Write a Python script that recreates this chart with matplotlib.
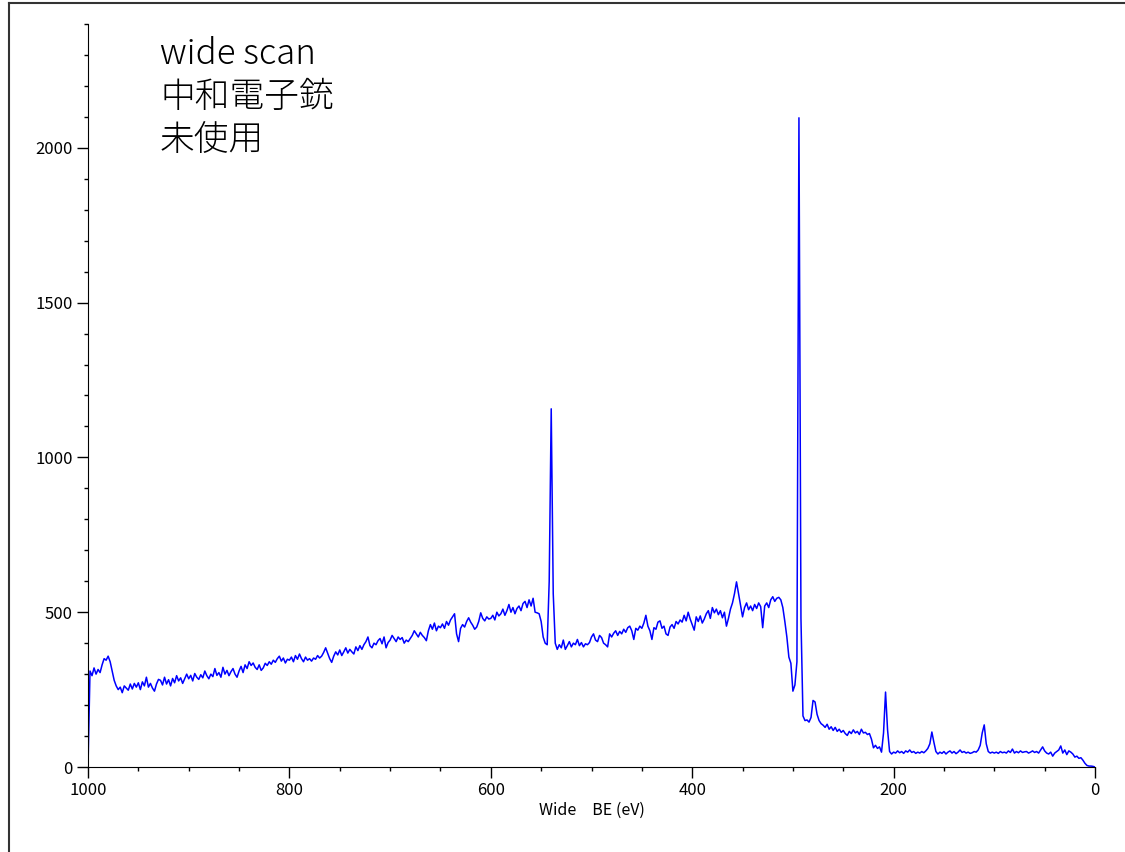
import matplotlib.pyplot as plt
import matplotlib.lines as mlines
import numpy as np

plt.rcParams['font.family'] = ['Noto Sans CJK JP', 'DejaVu Sans']

# scan grid (eV), high BE -> low BE
scan_start, scan_stop, scan_step = 1000, 0, 2

# counts, one row per 50 eV (1000 ... 2), last value at 0 eV
counts = [
    0, 310, 295, 320, 300, 315, 305, 330, 350, 345, 358, 340, 310, 280, 262, 250, 258, 240, 262, 255, 248, 268, 252, 270, 258,
    272, 250, 275, 262, 290, 258, 270, 255, 245, 268, 283, 280, 265, 290, 268, 282, 262, 286, 272, 295, 278, 288, 270, 285, 300,
    285, 296, 278, 302, 290, 283, 298, 288, 310, 295, 285, 300, 292, 318, 296, 305, 290, 322, 300, 312, 295, 308, 318, 300, 290,
    310, 325, 305, 330, 318, 340, 328, 336, 322, 315, 330, 312, 320, 335, 328, 340, 332, 345, 338, 350, 358, 342, 352, 336, 348,
    345, 355, 340, 360, 348, 365, 350, 340, 355, 345, 350, 342, 352, 348, 360, 352, 358, 370, 385, 368, 350, 338, 358, 372, 362,
    378, 360, 372, 385, 368, 380, 372, 365, 388, 376, 392, 380, 395, 405, 420, 392, 385, 400, 395, 408, 415, 398, 420, 385, 402,
    410, 425, 415, 405, 420, 412, 418, 400, 410, 405, 415, 425, 440, 430, 420, 435, 425, 418, 408, 440, 460, 445, 465, 440, 455,
    450, 462, 448, 470, 458, 475, 485, 495, 430, 405, 448, 460, 452, 470, 482, 468, 458, 445, 452, 470, 498, 480, 472, 485, 478,
    480, 490, 475, 500, 488, 495, 510, 490, 505, 525, 500, 515, 495, 512, 520, 505, 528, 535, 515, 540, 520, 545, 500, 498, 495,
    470, 420, 400, 395, 600, 1157, 560, 400, 380, 395, 385, 410, 380, 392, 405, 388, 400, 395, 412, 392, 402, 388, 398, 395, 402,
    420, 430, 410, 405, 425, 418, 400, 395, 388, 430, 420, 432, 440, 425, 438, 430, 445, 435, 450, 455, 440, 412, 448, 442, 455,
    448, 465, 490, 455, 440, 412, 450, 445, 468, 472, 448, 455, 430, 425, 452, 460, 448, 470, 462, 475, 468, 490, 472, 500, 478,
    460, 442, 485, 470, 488, 465, 478, 495, 505, 480, 515, 498, 510, 492, 505, 482, 500, 455, 480, 510, 530, 560, 598, 560, 520,
    485, 515, 530, 508, 520, 505, 525, 512, 530, 518, 450, 520, 530, 515, 540, 550, 535, 545, 548, 540, 515, 470, 420, 355, 335,
    245, 265, 340, 2097, 480, 165, 150, 152, 145, 160, 215, 210, 170, 150, 140, 135, 128, 138, 122, 130, 118, 128, 115, 122, 112,
    118, 108, 102, 115, 108, 120, 110, 115, 105, 122, 110, 112, 105, 108, 90, 62, 70, 60, 65, 48, 110, 242, 120, 50, 42,
    48, 45, 52, 46, 50, 44, 52, 48, 55, 47, 50, 44, 48, 45, 50, 46, 52, 60, 75, 113, 80, 50, 42, 48, 44,
    50, 42, 48, 52, 45, 50, 43, 48, 55, 47, 50, 45, 48, 44, 46, 50, 48, 55, 70, 110, 136, 75, 50, 45, 48,
    45, 48, 44, 50, 46, 48, 45, 52, 47, 58, 45, 50, 46, 52, 47, 49, 50, 45, 48, 52, 47, 50, 45, 55, 65,
    52, 45, 42, 48, 35, 45, 50, 55, 68, 45, 55, 40, 52, 48, 42, 32, 35, 28, 30, 22, 12, 5, 3, 3, 2,
    0,
]

note_lines = ['wide scan', '中和電子銃', '未使用']
x_label = 'Wide\u3000BE (eV)'
x_major = [1000, 800, 600, 400, 200, 0]
y_major = [0, 500, 1000, 1500, 2000]

be = np.arange(scan_start, scan_stop - 1, -scan_step)

W, H = 1125, 852
fig = plt.figure(figsize=(W / 100, H / 100), dpi=100)
ax = fig.add_axes([88 / W, 1 - 767 / H, (1095 - 88) / W, (767 - 24) / H])

ax.plot(be, counts, color='#0000ff', lw=1.1)

ax.set_xlim(1000, 0)
ax.set_ylim(0, 2400)
ax.set_xticks(x_major)
ax.set_xticks(np.arange(0, 1001, 50), minor=True)
ax.set_yticks(y_major)
ax.set_yticks(np.arange(0, 2401, 100), minor=True)
ax.tick_params(which='major', length=8, width=1, labelsize=12, pad=3)
ax.tick_params(which='minor', length=3, width=1)
ax.spines['top'].set_visible(False)
ax.spines['right'].set_visible(False)
ax.set_xlabel(x_label, fontsize=11.5, labelpad=2)

for i, line in enumerate(note_lines):
    fig.text(160 / W, 1 - (64 + 43 * i) / H, line, fontsize=25, va='baseline', ha='left',
             fontweight='light')

# outer frame, cut by the image edge on the right and bottom
fig.add_artist(mlines.Line2D([9 / W, 9 / W], [0, 1 - 3 / H], color='#333333', lw=1.5))
fig.add_artist(mlines.Line2D([9 / W, 1], [1 - 3 / H, 1 - 3 / H], color='#333333', lw=1.5))

fig.savefig('out.png', dpi=100)
